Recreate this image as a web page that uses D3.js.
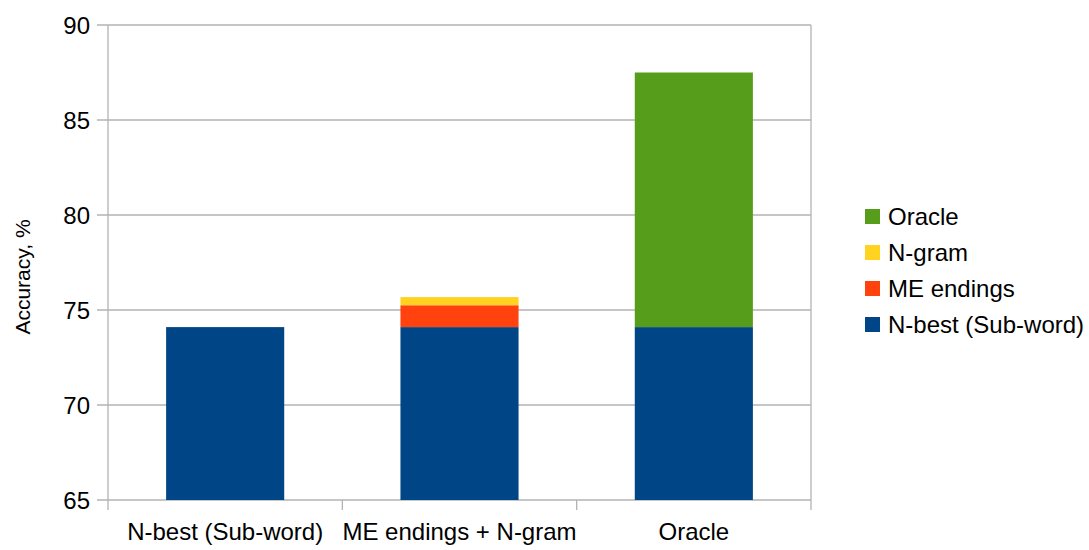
<!DOCTYPE html>
<html><head><meta charset="utf-8">
<script src="https://cdn.jsdelivr.net/npm/d3@7/dist/d3.min.js"></script>
<style>body{margin:0;background:#fff}svg{display:block;font-family:"Liberation Sans",Arial,sans-serif}</style>
</head><body>
<svg id="c" width="1089" height="550"></svg>
<script>
const categories = ["N-best (Sub-word)", "ME endings + N-gram", "Oracle"];
const seriesNames = ["N-best (Sub-word)", "ME endings", "N-gram", "Oracle"];
const nbest   = [74.1, 74.1, 74.1];
const meEnd   = [0, 1.15, 0];
const ngram   = [0, 0.43, 0];
const oracle  = [0, 0, 13.4];
const yTicks  = [65, 70, 75, 80, 85, 90];
const colors  = ["#004586", "#ff420e", "#ffd320", "#579d1c"];

const svg = d3.select("#c");
const L = 108, R = 811, T = 25, B = 500;
const x = d3.scaleBand().domain(categories).range([L, R]).paddingInner(0.496).paddingOuter(0.248);
const y = d3.scaleLinear().domain([65, 90]).range([B, T]);
const grid = "#b3b3b3";

// gridlines
svg.append("g").selectAll("line").data(yTicks).join("line")
  .attr("x1", L - 11).attr("x2", R).attr("y1", d => y(d)).attr("y2", d => y(d))
  .attr("stroke", grid).attr("stroke-width", 1.3);

// stacked bars
const rows = categories.map((c, i) => ({cat: c, s0: nbest[i], s1: meEnd[i], s2: ngram[i], s3: oracle[i]}));
const stacked = d3.stack().keys(["s0", "s1", "s2", "s3"])(rows);
stacked.forEach((layer, k) => {
  svg.append("g").attr("fill", colors[k]).selectAll("rect").data(layer.filter(d => d[1] - d[0] > 0)).join("rect")
    .attr("x", d => x(d.data.cat)).attr("width", x.bandwidth())
    .attr("y", d => y(d[1])).attr("height", d => y(Math.max(65, d[0])) - y(d[1]));
});

// axes lines
svg.append("line").attr("x1", L).attr("x2", L).attr("y1", T).attr("y2", B + 10).attr("stroke", grid).attr("stroke-width", 1.3);
svg.append("line").attr("x1", R).attr("x2", R).attr("y1", T).attr("y2", B + 10).attr("stroke", grid).attr("stroke-width", 1.3);
const bounds = [x(categories[1]) - x.step() * x.paddingInner() / 2, x(categories[2]) - x.step() * x.paddingInner() / 2];
svg.append("g").selectAll("line").data(bounds).join("line")
  .attr("x1", d => d).attr("x2", d => d).attr("y1", B).attr("y2", B + 10)
  .attr("stroke", grid).attr("stroke-width", 1.3);

// y tick labels
svg.append("g").selectAll("text").data(yTicks).join("text")
  .attr("x", 90).attr("y", d => y(d) + 8.5).attr("text-anchor", "end")
  .attr("font-size", 24).attr("fill", "#000").text(d => d);

// category labels
svg.append("g").selectAll("text").data(categories).join("text")
  .attr("x", d => x(d) + x.bandwidth() / 2).attr("y", 540).attr("text-anchor", "middle")
  .attr("font-size", 24).attr("fill", "#000").text(d => d);

// y title
svg.append("text").attr("transform", "translate(30,277) rotate(-90)").attr("text-anchor", "middle")
  .attr("font-size", 21).attr("fill", "#000").text("Accuracy, %");

// legend
const legendOrder = [3, 2, 1, 0];
const lg = svg.append("g").selectAll("g").data(legendOrder).join("g")
  .attr("transform", (d, i) => `translate(865,${209 + i * 36})`);
lg.append("rect").attr("width", 15).attr("height", 15).attr("fill", d => colors[d]);
lg.append("text").attr("x", 23).attr("y", 16).attr("font-size", 24).attr("fill", "#000").text(d => seriesNames[d]);
</script>
</body></html>
